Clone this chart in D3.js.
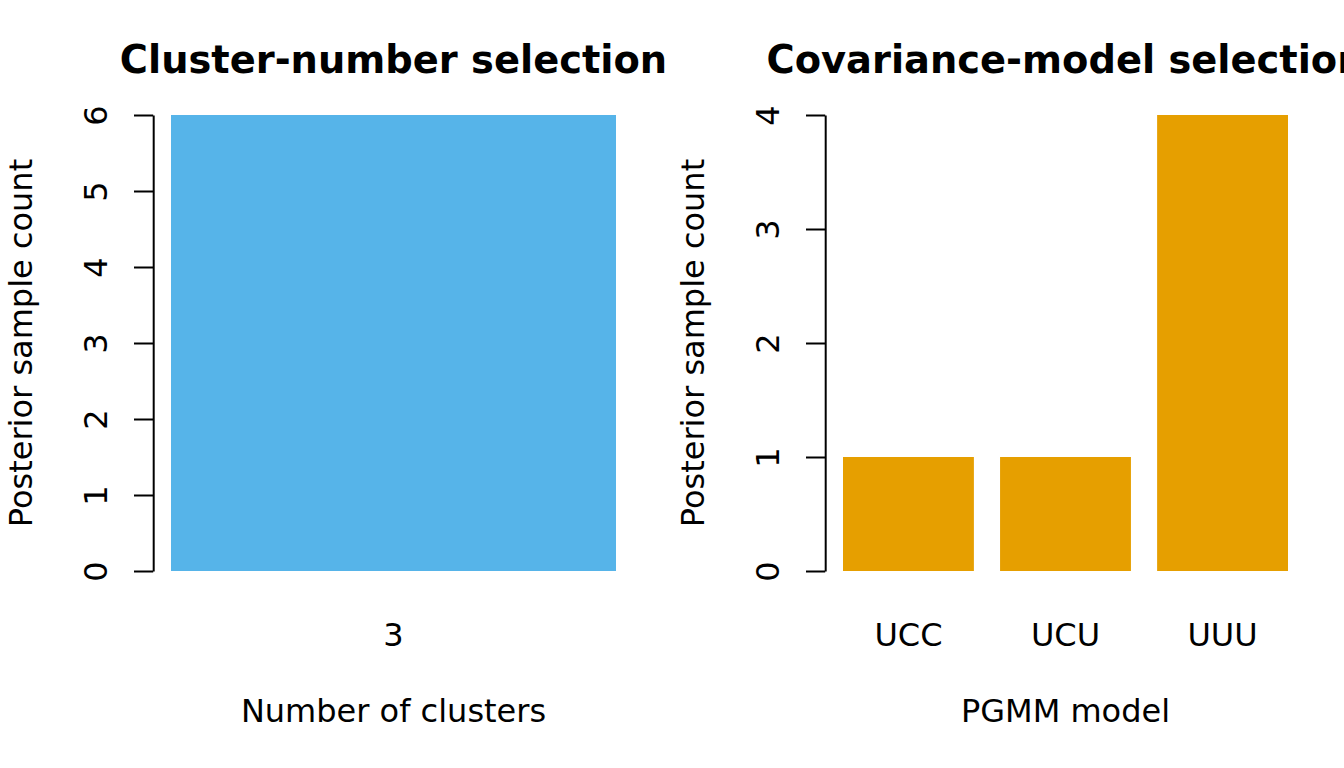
<!DOCTYPE html>
<html><head><meta charset="utf-8">
<script src="https://cdn.jsdelivr.net/npm/d3@7"></script>
<style>
html,body{margin:0;padding:0;background:#fff;}
text{font-family:"DejaVu Sans",sans-serif;fill:#000;}
</style></head>
<body>
<svg id="chart" width="1344" height="768"></svg>
<script>
// Data
const clusterCategories = ["3"];
const clusterCounts = [6];
const clusterTicks = [0,1,2,3,4,5,6];
const modelCategories = ["UCC","UCU","UUU"];
const modelCounts = [1,1,4];
const modelTicks = [0,1,2,3,4];

const svg = d3.select("#chart");
const W = 1344, H = 768;
svg.append("rect").attr("width",W).attr("height",H).attr("fill","#fff");

const FS = 32;
function panel(opts){
  const {offsetX, cats, vals, ticks, color, title, xlab} = opts;
  const n = cats.length;
  // R barplot layout: width 1, space 0.2
  const lefts = cats.map((c,i)=>0.2 + i*1.2);
  const xmin = 0.2, xmax = 0.2 + n*1.2 - 0.2;
  const pad = 0.04*(xmax-xmin);
  const plotL = offsetX + 153.2, plotR = offsetX + 633.8;
  const x = d3.scaleLinear().domain([xmin-pad, xmax+pad]).range([plotL, plotR]);
  const ymax = d3.max(ticks);
  const y = d3.scaleLinear().domain([0, ymax]).range([571, 115]);
  const g = svg.append("g");

  g.selectAll("rect.bar").data(vals).join("rect")
    .attr("class","bar")
    .attr("x",(d,i)=>x(lefts[i]))
    .attr("width",(d,i)=>x(lefts[i]+1)-x(lefts[i]))
    .attr("y",d=>y(d))
    .attr("height",d=>y(0)-y(d))
    .attr("fill",color);

  const ax = g.append("g").attr("transform",`translate(${x(xmin-pad)},0)`)
    .call(d3.axisLeft(y).tickValues(ticks).tickSize(19.2).tickSizeOuter(0).tickFormat(d3.format("d")));
  ax.selectAll("path.domain").attr("stroke","#000").attr("stroke-width",2);
  ax.selectAll(".tick line").attr("stroke","#000").attr("stroke-width",2);
  ax.selectAll(".tick text")
    .attr("x",null).attr("dy",null)
    .attr("transform","translate(-46,0) rotate(-90)")
    .attr("text-anchor","middle")
    .style("font-family","DejaVu Sans")
    .style("font-size",FS+"px")
    .attr("fill","#000");

  // category labels
  g.selectAll("text.cat").data(cats).join("text")
    .attr("class","cat")
    .attr("x",(d,i)=>x(lefts[i]+0.5))
    .attr("y",646)
    .attr("text-anchor","middle")
    .style("font-size",FS+"px")
    .text(d=>d);

  const cx = (plotL+plotR)/2;
  g.append("text").attr("x",cx).attr("y",722)
    .attr("text-anchor","middle").style("font-size",FS+"px").text(xlab);
  g.append("text").attr("x",cx).attr("y",73)
    .attr("text-anchor","middle").style("font-size",(FS*1.2)+"px")
    .style("font-weight","bold").text(title);
  g.append("text")
    .attr("transform",`translate(${offsetX+32},${(115+571)/2}) rotate(-90)`)
    .attr("text-anchor","middle").style("font-size",FS+"px")
    .text("Posterior sample count");
}

panel({offsetX:0, cats:clusterCategories, vals:clusterCounts, ticks:clusterTicks,
  color:"#56B4E9", title:"Cluster-number selection", xlab:"Number of clusters"});
panel({offsetX:672, cats:modelCategories, vals:modelCounts, ticks:modelTicks,
  color:"#E69F00", title:"Covariance-model selection", xlab:"PGMM model"});
</script>
</body></html>
